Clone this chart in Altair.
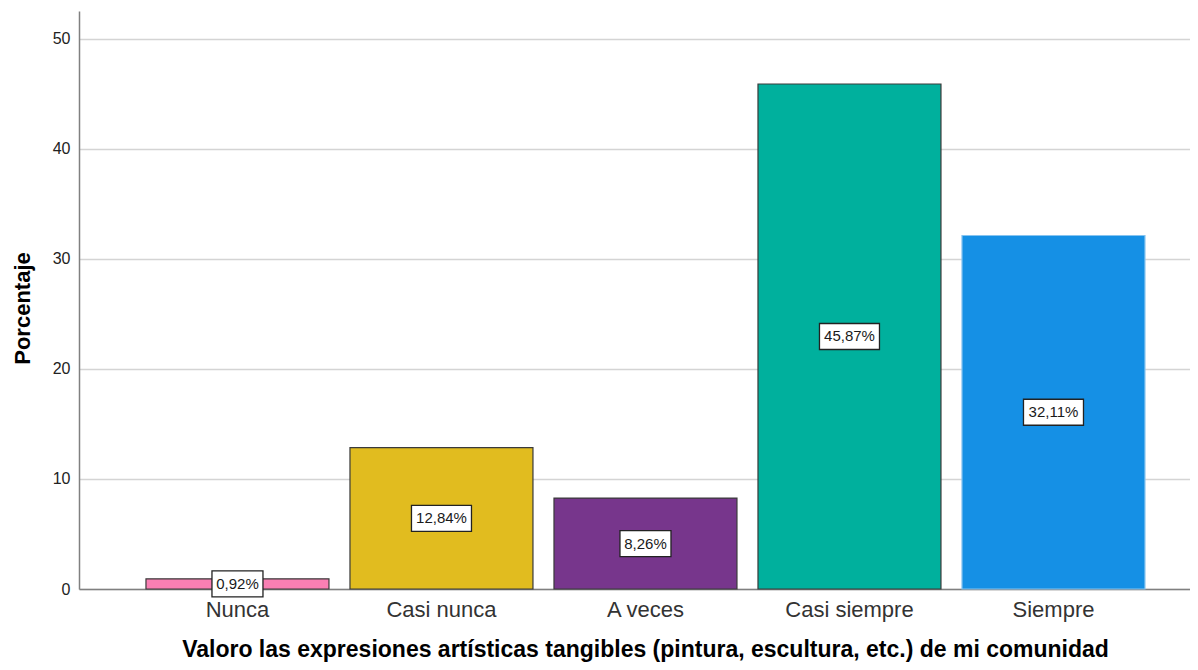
import altair as alt
import pandas as pd

categories = ["Nunca", "Casi nunca", "A veces", "Casi siempre", "Siempre"]
values = [0.92, 12.84, 8.26, 45.87, 32.11]
fill_colors = ["#F97FB3", "#E1BC1F", "#77368C", "#00B09D", "#1590E5"]
stroke_colors = ["#3a3a3a", "#3a3a3a", "#3a3a3a", "#3a3a3a", "#86C4F0"]

labels = [f"{v:.2f}".replace(".", ",") + "%" for v in values]
box_w = [9 * len(t) + 6 for t in labels]
box_h = 26
shapes = [
    "M-1,-{h}L1,-{h}L1,{h}L-1,{h}Z".format(h=round(box_h / w, 4)) for w in box_w
]

df = pd.DataFrame({
    "cat": categories,
    "value": values,
    "mid": [v / 2 for v in values],
    "fillc": fill_colors,
    "strokec": stroke_colors,
    "label": labels,
    "shape": shapes,
    "size": [w * w for w in box_w],
})

FONT = "Liberation Sans"

x = alt.X(
    "cat:N",
    sort=categories,
    scale=alt.Scale(paddingInner=0.103, paddingOuter=0.2745, align=0.598),
    axis=alt.Axis(
        title="Valoro las expresiones artísticas tangibles (pintura, escultura, etc.) de mi comunidad",
        labelAngle=0,
        ticks=False,
        domainColor="#808080",
        domainWidth=1.5,
        labelFont=FONT,
        labelFontSize=22,
        labelColor="#333333",
        labelPadding=10,
        titleFont=FONT,
        titleFontSize=23,
        titleFontWeight="bold",
        titleColor="#000000",
        titleX=566,
        titleY=67,
        titleAlign="center",
        titleBaseline="alphabetic",
    ),
)

yscale = alt.Scale(domain=[0, 52.5], nice=False)
yaxis = alt.Axis(
    values=[0, 10, 20, 30, 40, 50],
    grid=True,
    gridColor="#d4d4d4",
    gridWidth=1.5,
    ticks=False,
    domainColor="#808080",
    domainWidth=1.5,
    labelFont=FONT,
    labelFontSize=16,
    labelColor="#222222",
    labelPadding=9,
    title="Porcentaje",
    titleFont=FONT,
    titleFontSize=22,
    titleFontWeight="bold",
    titleColor="#000000",
    titleAngle=270,
    titleX=-57,
    titleY=297,
    titleAlign="center",
    titleBaseline="middle",
)

base = alt.Chart(df).encode(x=x)

bars = base.mark_bar(strokeWidth=1.2).encode(
    y=alt.Y("value:Q", scale=yscale, axis=yaxis),
    fill=alt.Fill("fillc:N", scale=None),
    stroke=alt.Stroke("strokec:N", scale=None),
)

boxes = base.mark_point(
    filled=True, fill="white", stroke="#222222", strokeWidth=1.3, opacity=1
).encode(
    y=alt.Y("mid:Q", scale=yscale),
    shape=alt.Shape("shape:N", scale=None),
    size=alt.Size("size:Q", scale=None),
)

texts = base.mark_text(font=FONT, fontSize=15, color="#1a1a1a").encode(
    y=alt.Y("mid:Q", scale=yscale),
    text="label:N",
)

chart = (
    alt.layer(bars, boxes, texts)
    .properties(
        width=1111,
        height=578,
        autosize=alt.AutoSizeParams(type="none"),
        padding={"left": 71, "top": 3, "right": 0, "bottom": 73},
    )
    .configure_view(stroke=None)
)

chart.save("out.html", embed_options={"renderer": "svg", "actions": False})
